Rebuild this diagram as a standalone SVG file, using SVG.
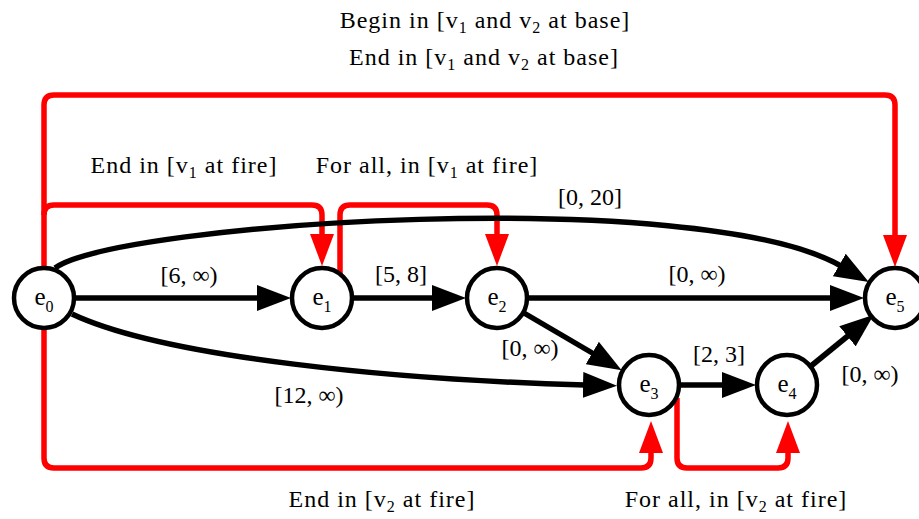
<svg xmlns="http://www.w3.org/2000/svg" width="919" height="519" viewBox="0 0 919 519">
<style>
text{font-family:"Liberation Serif","Times New Roman",serif;fill:#000;}
.lbl{font-size:24px;text-anchor:middle;}
.ann{font-size:24px;text-anchor:middle;letter-spacing:1px;}
.nl{font-size:25px;text-anchor:middle;}
.sub{font-size:16px;}
.blk{fill:none;stroke:#000;stroke-width:5.5;marker-end:url(#ab);}
.red{fill:none;stroke:#f00;stroke-width:5.5;stroke-linejoin:round;}
.reda{marker-end:url(#ar);}
.node{fill:#fff;stroke:#000;stroke-width:4.5;}
</style>
<defs>
<marker id="ab" markerUnits="userSpaceOnUse" viewBox="0 0 34 26" markerWidth="34" markerHeight="26" refX="2" refY="13" orient="auto">
<path d="M0,0 L34,13 L0,26 z" fill="#000"/>
</marker>
<marker id="ar" markerUnits="userSpaceOnUse" viewBox="0 0 32 24" markerWidth="32" markerHeight="24" refX="2" refY="12" orient="auto">
<path d="M0,0 L32,12 L0,24 z" fill="#f00"/>
</marker>
</defs>

<g id="connectors">
<path class="red reda" d="M44,298 V105 Q44,95 54,95 H885 Q895,95 895,105 V237"/>
<path class="red reda" d="M44,215 Q44,205 54,205 H312 Q322,205 322,215 V236"/>
<path class="red reda" d="M340,275 V215 Q340,205 350,205 H487 Q497,205 497,215 V236"/>
<path class="red reda" d="M44,298 V458 Q44,468 54,468 H641 Q651,468 651,458 V451"/>
<path class="red reda" d="M677,398 V458 Q677,468 687,468 H778 Q788,468 788,458 V451"/>
<path class="blk" d="M75,298 H259"/>
<path class="blk" d="M353,298 H434"/>
<path class="blk" d="M528,298 H832"/>
<path class="blk" d="M55,268 C120,222 700,185 841,266"/>
<path class="blk" d="M72,314 C165,358 400,380 585,385"/>
<path class="blk" d="M524,313 L594,354"/>
<path class="blk" d="M681,385 H724"/>
<path class="blk" d="M811,366 L849,335"/>
</g>

<g id="e0"><circle class="node" cx="44" cy="298" r="30"/><text class="nl" x="44" y="305">e<tspan class="sub" dy="7">0</tspan></text></g>
<g id="e1"><circle class="node" cx="322" cy="298" r="30"/><text class="nl" x="322" y="305">e<tspan class="sub" dy="7">1</tspan></text></g>
<g id="e2"><circle class="node" cx="497" cy="298" r="30"/><text class="nl" x="497" y="305">e<tspan class="sub" dy="7">2</tspan></text></g>
<g id="e3"><circle class="node" cx="649" cy="385" r="30"/><text class="nl" x="649" y="392">e<tspan class="sub" dy="7">3</tspan></text></g>
<g id="e4"><circle class="node" cx="787" cy="385" r="30"/><text class="nl" x="787" y="392">e<tspan class="sub" dy="7">4</tspan></text></g>
<g id="e5"><circle class="node" cx="895" cy="298" r="30"/><text class="nl" x="895" y="305">e<tspan class="sub" dy="7">5</tspan></text></g>

<g id="labels">
<text class="ann" x="485" y="28">Begin in [v<tspan class="sub" dy="5">1</tspan><tspan dy="-5"> and v</tspan><tspan class="sub" dy="5">2</tspan><tspan dy="-5"> at base]</tspan></text>
<text class="ann" x="484" y="65">End in [v<tspan class="sub" dy="5">1</tspan><tspan dy="-5"> and v</tspan><tspan class="sub" dy="5">2</tspan><tspan dy="-5"> at base]</tspan></text>
<text class="ann" x="184" y="173">End in [v<tspan class="sub" dy="5">1</tspan><tspan dy="-5"> at fire]</tspan></text>
<text class="ann" x="427" y="173">For all, in [v<tspan class="sub" dy="5">1</tspan><tspan dy="-5"> at fire]</tspan></text>
<text class="ann" x="382" y="507">End in [v<tspan class="sub" dy="5">2</tspan><tspan dy="-5"> at fire]</tspan></text>
<text class="ann" x="736" y="507">For all, in [v<tspan class="sub" dy="5">2</tspan><tspan dy="-5"> at fire]</tspan></text>
<text class="lbl" x="590" y="205">[0, 20]</text>
<text class="lbl" x="189" y="283">[6, ∞)</text>
<text class="lbl" x="401" y="282">[5, 8]</text>
<text class="lbl" x="697" y="282">[0, ∞)</text>
<text class="lbl" x="530" y="356">[0, ∞)</text>
<text class="lbl" x="719" y="362">[2, 3]</text>
<text class="lbl" x="870" y="382">[0, ∞)</text>
<text class="lbl" x="309" y="403">[12, ∞)</text>
</g>
</svg>
